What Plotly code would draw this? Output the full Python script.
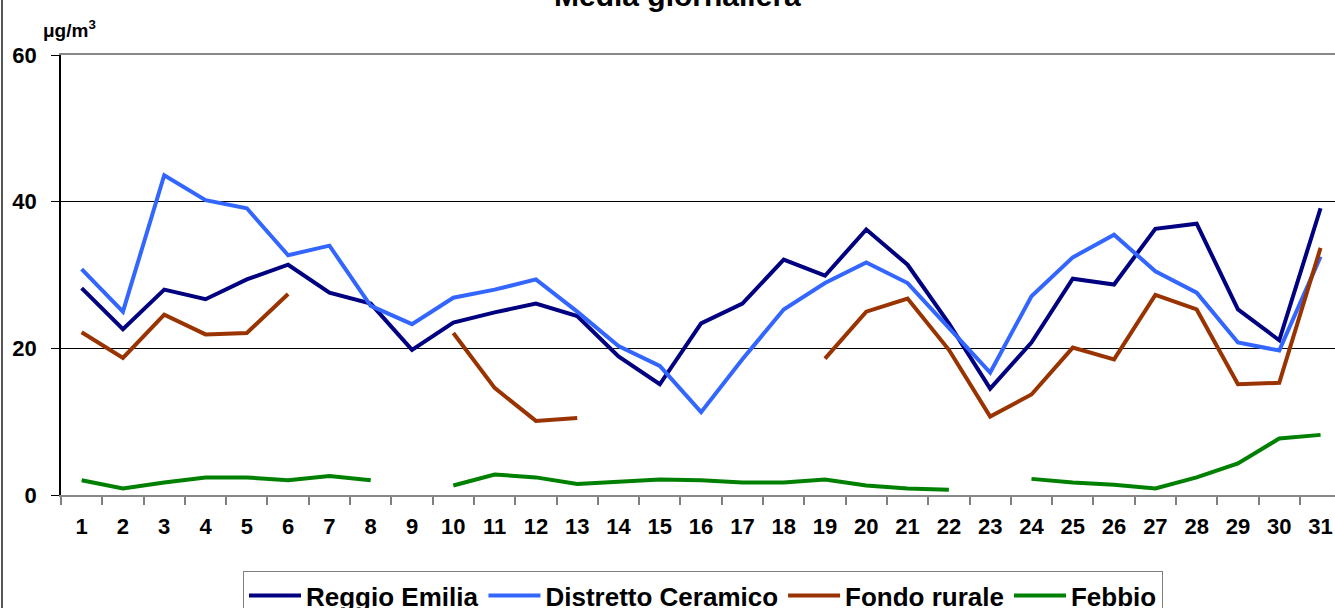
import plotly.graph_objects as go

days = [str(d) for d in range(1, 32)]

reggio_emilia = [28.2, 22.6, 28.0, 26.7, 29.4, 31.4, 27.6, 26.1, 19.8, 23.5,
                 24.9, 26.1, 24.4, 18.9, 15.1, 23.4, 26.1, 32.1, 29.9, 36.2,
                 31.4, 23.4, 14.5, 20.8, 29.5, 28.7, 36.3, 37.0, 25.3, 21.1, 39.1]

distretto_ceramico = [30.8, 25.0, 43.6, 40.2, 39.1, 32.7, 34.0, 25.8, 23.3, 26.9,
                      28.0, 29.4, 25.0, 20.3, 17.6, 11.3, 18.5, 25.3, 28.9, 31.7,
                      28.9, 22.8, 16.7, 27.1, 32.4, 35.5, 30.5, 27.6, 20.8, 19.7, 32.5]

fondo_rurale = [22.2, 18.7, 24.6, 21.9, 22.1, 27.4, None, None, None, 22.1,
                14.6, 10.1, 10.5, None, None, None, None, None, 18.6, 25.0,
                26.8, 19.8, 10.7, 13.7, 20.1, 18.5, 27.3, 25.3, 15.1, 15.3, 33.7]

febbio = [2.0, 0.9, 1.7, 2.4, 2.4, 2.0, 2.6, 2.0, None, 1.3,
          2.8, 2.4, 1.5, 1.8, 2.1, 2.0, 1.7, 1.7, 2.1, 1.3,
          0.9, 0.7, None, 2.2, 1.7, 1.4, 0.9, 2.4, 4.3, 7.7, 8.2]

series = [
    ("Reggio Emilia", reggio_emilia, "#000080"),
    ("Distretto Ceramico", distretto_ceramico, "#3366FF"),
    ("Fondo rurale", fondo_rurale, "#993300"),
    ("Febbio", febbio, "#008000"),
]

FONT = "Liberation Sans, Arial, sans-serif"

fig = go.Figure()
for name, vals, color in series:
    fig.add_trace(go.Scatter(
        x=days, y=vals, name=name, mode="lines",
        line=dict(color=color, width=4),
        connectgaps=False,
    ))

fig.update_layout(
    width=1335, height=608,
    margin=dict(l=61, r=0, t=55, b=112.5, autoexpand=False),
    paper_bgcolor="white", plot_bgcolor="white",
    font=dict(family=FONT, color="black"),
    showlegend=True,
    legend=dict(
        orientation="h",
        xref="container", yref="container",
        x=243 / 1335, xanchor="left",
        y=1 - 571 / 608, yanchor="top",
        bgcolor="white", bordercolor="#7f7f7f", borderwidth=1,
        font=dict(family=FONT, size=26, weight="bold", color="black"),
        itemwidth=52,
    ),
    xaxis=dict(
        type="category",
        range=[-0.5, 30.35],
        tickson="boundaries",
        ticks="outside", ticklen=8, tickcolor="#808080", tickwidth=1.5,
        showline=True, linecolor="#888888", linewidth=2, mirror=True,
        showgrid=False, zeroline=False,
        tickfont=dict(family=FONT, size=22, weight="bold", color="black"),
        ticklabelstandoff=11,
        automargin=False,
    ),
    yaxis=dict(
        range=[0, 60],
        tickvals=[0, 20, 40, 60],
        ticks="outside", ticklen=8, tickcolor="black", tickwidth=1,
        showline=True, linecolor="black", linewidth=1.5,
        showgrid=True, gridcolor="black", gridwidth=1,
        zeroline=False,
        tickfont=dict(family=FONT, size=22, weight="bold", color="black"),
        ticklabelstandoff=10,
        automargin=False,
    ),
    annotations=[
        dict(text="<b>Media giornaliera</b>", xref="paper", yref="paper",
             x=(677 - 61) / 1274, y=1, xanchor="center", yanchor="middle",
             yshift=60, showarrow=False,
             font=dict(family=FONT, size=30, color="black")),
        dict(text="<b>μg/m<sup>3</sup></b>", xref="paper", yref="paper",
             x=(41 - 61) / 1274, y=1, xanchor="left", yanchor="middle",
             yshift=26, showarrow=False,
             font=dict(family=FONT, size=19, color="black")),
    ],
    shapes=[
        dict(type="line", xref="paper", yref="paper",
             x0=(2 - 61) / 1274, x1=(2 - 61) / 1274, y0=-0.3, y1=1.2,
             line=dict(color="#555555", width=2)),
    ],
)

fig.write_html(
    "out.html",
    config={"displayModeBar": False},
    post_script="document.body.style.margin='0';document.body.style.padding='0';",
)
